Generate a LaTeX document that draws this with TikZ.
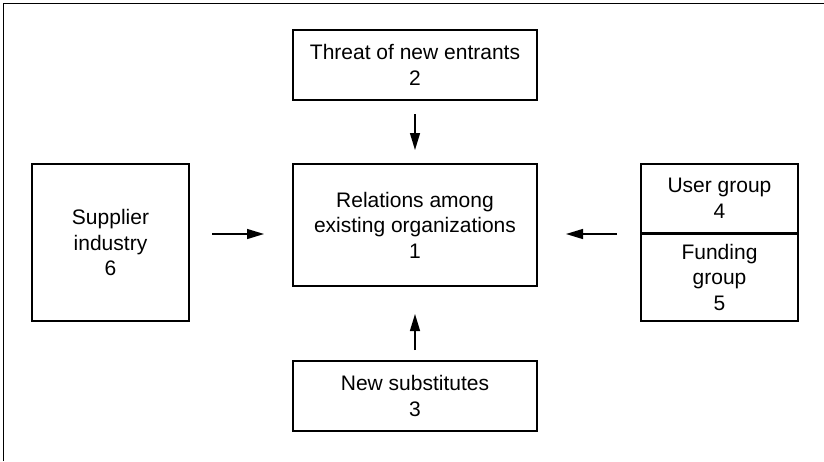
\documentclass[tikz,border=0pt]{standalone}
\usepackage{fontspec}
\setmainfont{Liberation Sans}
\usetikzlibrary{arrows.meta}
\begin{document}
\begin{tikzpicture}[x=1pt,y=-1pt,
  box/.style={draw,line width=1.6pt,rectangle,inner sep=0pt,align=center,
    font=\fontsize{21}{25.5}\selectfont},
  arr/.style={line width=1.3pt,-{Triangle[length=17pt,width=10pt]}}]
\useasboundingbox (0,0) rectangle (824,461);
\draw[line width=1.8pt] (3.5,461) -- (3.5,3.5) -- (824,3.5);
\node[box,minimum width=244pt,minimum height=70pt] (threat) at (415,65) {Threat of new entrants\\2};
\node[box,minimum width=244pt,minimum height=122pt] (rel) at (415,225) {Relations among\\existing organizations\\1};
\node[box,minimum width=244pt,minimum height=70pt] (subs) at (415,396) {New substitutes\\3};
\node[box,minimum width=157pt,minimum height=157pt] (sup) at (110.5,242.5) {Supplier\\industry\\6};
\node[box,minimum width=157pt,minimum height=69pt] (user) at (719.5,198.5) {User group\\4};
\node[box,minimum width=157pt,minimum height=88pt] (fund) at (719.5,277) {Funding\\group\\5};
\draw[line width=2.6pt] (user.south west) -- (user.south east);
\coordinate (l1) at (212,234);
\coordinate (l2) at (264,234);
\coordinate (r1) at (617,234);
\coordinate (r2) at (566,234);
\coordinate (t1) at (415,114);
\coordinate (t2) at (415,150);
\coordinate (b1) at (415,350);
\coordinate (b2) at (415,314);
\draw[arr] (l1) -- (l2);
\draw[arr] (r1) -- (r2);
\draw[arr] (t1) -- (t2);
\draw[arr] (b1) -- (b2);
\end{tikzpicture}
\end{document}
